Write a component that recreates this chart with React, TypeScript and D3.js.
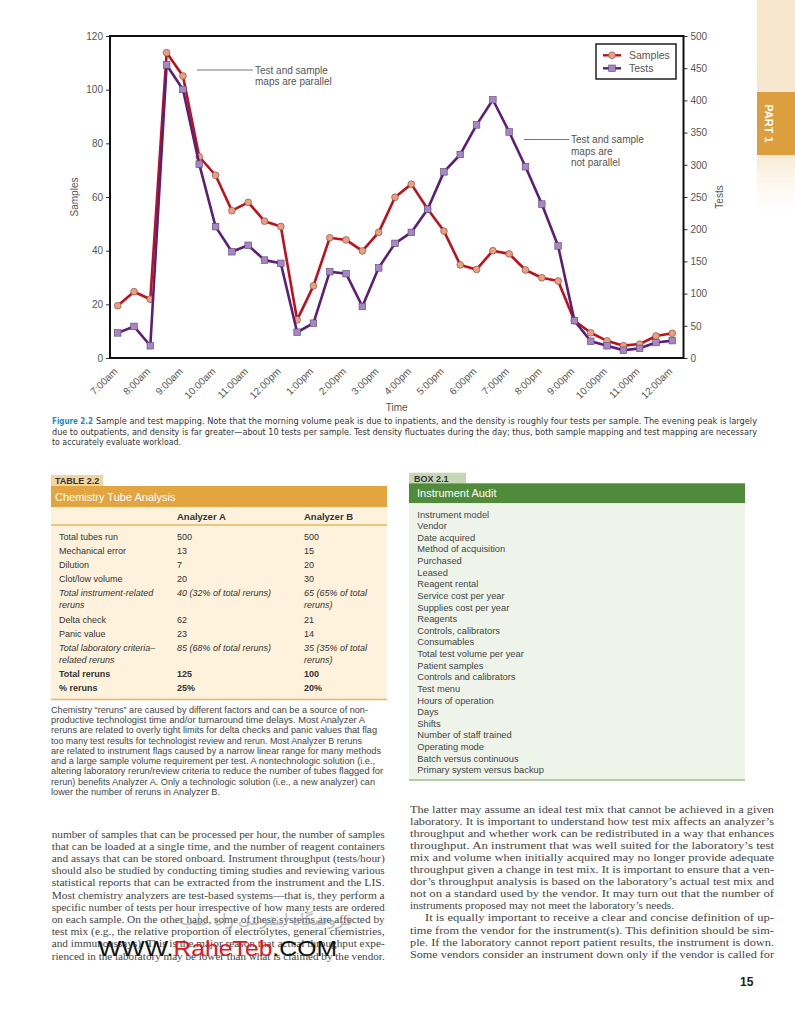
import * as d3 from "d3";
import React, { useEffect, useRef } from "react";

// time of day, every half hour
const times = [
  "7:00am", "7:30am", "8:00am", "8:30am", "9:00am", "9:30am", "10:00am", "10:30am",
  "11:00am", "11:30am", "12:00pm", "12:30pm", "1:00pm", "1:30pm", "2:00pm", "2:30pm",
  "3:00pm", "3:30pm", "4:00pm", "4:30pm", "5:00pm", "5:30pm", "6:00pm", "6:30pm",
  "7:00pm", "7:30pm", "8:00pm", "8:30pm", "9:00pm", "9:30pm", "10:00pm", "10:30pm",
  "11:00pm", "11:30pm", "12:00am",
];
const hourLabels = [
  "7:00am", "8:00am", "9:00am", "10:00am", "11:00am", "12:00pm", "1:00pm", "2:00pm", "3:00pm",
  "4:00pm", "5:00pm", "6:00pm", "7:00pm", "8:00pm", "9:00pm", "10:00pm", "11:00pm", "12:00am",
];
const samples = [
  19.5, 24.7, 21.9, 113.8, 105.1, 75, 68.1, 54.9, 58, 51, 49, 14.2, 26.9, 44.8, 44, 39.9, 46.8,
  59.9, 64.8, 55.5, 47.3, 34.7, 33, 40, 38.8, 32.8, 29.9, 28.7, 13.9, 9.4, 6.4, 4.6, 5.2, 8.2, 9.2,
];
const tests = [
  39, 49, 19, 455, 417, 301, 204, 165, 175, 152, 147, 40, 54, 134, 131, 80, 140, 178, 195, 231,
  289, 316, 362, 401, 351, 297, 239, 174, 58, 26, 19, 12, 15, 24, 27,
];
const sampleTicks = [0, 20, 40, 60, 80, 100, 120];
const testTicks = [0, 50, 100, 150, 200, 250, 300, 350, 400, 450, 500];

const captionLines = [
  "Sample and test mapping. Note that the morning volume peak is due to inpatients, and the density is roughly four tests per sample. The evening peak is largely",
  "due to outpatients, and density is far greater\u2014about 10 tests per sample. Test density fluctuates during the day; thus, both sample mapping and test mapping are necessary",
  "to accurately evaluate workload.",
];

const tableLabels = [
  ["Total tubes run"], ["Mechanical error"], ["Dilution"], ["Clot/low volume"],
  ["Total instrument-related", "reruns"], ["Delta check"], ["Panic value"],
  ["Total laboratory criteria\u2013", "related reruns"], ["Total reruns"], ["% reruns"],
];
const analyzerA = [
  ["500"], ["13"], ["7"], ["20"], ["40 (32% of total reruns)"], ["62"], ["23"],
  ["85 (68% of total reruns)"], ["125"], ["25%"],
];
const analyzerB = [
  ["500"], ["15"], ["20"], ["30"], ["65 (65% of total", "reruns)"], ["21"], ["14"],
  ["35 (35% of total", "reruns)"], ["100"], ["20%"],
];
const rowStyle = ["n", "n", "n", "n", "i", "n", "n", "i", "b", "b"];

const tableNote = [
  "Chemistry \u201creruns\u201d are caused by different factors and can be a source of non-",
  "productive technologist time and/or turnaround time delays. Most Analyzer A",
  "reruns are related to overly tight limits for delta checks and panic values that flag",
  "too many test results for technologist review and rerun. Most Analyzer B reruns",
  "are related to instrument flags caused by a narrow linear range for many methods",
  "and a large sample volume requirement per test. A nontechnologic solution (i.e.,",
  "altering laboratory rerun/review criteria to reduce the number of tubes flagged for",
  "rerun) benefits Analyzer A. Only a technologic solution (i.e., a new analyzer) can",
  "lower the number of reruns in Analyzer B.",
];
const tableNoteEnds = [368, 365, 377, 362, 381, 375, 383, 375, 220];

const auditItems = [
  "Instrument model", "Vendor", "Date acquired", "Method of acquisition", "Purchased", "Leased",
  "Reagent rental", "Service cost per year", "Supplies cost per year", "Reagents",
  "Controls, calibrators", "Consumables", "Total test volume per year", "Patient samples",
  "Controls and calibrators", "Test menu", "Hours of operation", "Days", "Shifts",
  "Number of staff trained", "Operating mode", "Batch versus continuous",
  "Primary system versus backup",
];

const leftColumn = [
  "number of samples that can be processed per hour, the number of samples",
  "that can be loaded at a single time, and the number of reagent containers",
  "and assays that can be stored onboard. Instrument throughput (tests/hour)",
  "should also be studied by conducting timing studies and reviewing various",
  "statistical reports that can be extracted from the instrument and the LIS.",
  "Most chemistry analyzers are test-based systems\u2014that is, they perform a",
  "specific number of tests per hour irrespective of how many tests are ordered",
  "on each sample. On the other hand, some of these systems are affected by",
  "test mix (e.g., the relative proportion of electrolytes, general chemistries,",
  "and immunoassays). This is the major reason that actual throughput expe-",
  "rienced in the laboratory may be lower than what is claimed by the vendor.",
];
const rightColumn = [
  "The latter may assume an ideal test mix that cannot be achieved in a given",
  "laboratory. It is important to understand how test mix affects an analyzer\u2019s",
  "throughput and whether work can be redistributed in a way that enhances",
  "throughput. An instrument that was well suited for the laboratory\u2019s test",
  "mix and volume when initially acquired may no longer provide adequate",
  "throughput given a change in test mix. It is important to ensure that a ven-",
  "dor\u2019s throughput analysis is based on the laboratory\u2019s actual test mix and",
  "not on a standard used by the vendor. It may turn out that the number of",
  "instruments proposed may not meet the laboratory\u2019s needs.",
  "It is equally important to receive a clear and concise definition of up-",
  "time from the vendor for the instrument(s). This definition should be sim-",
  "ple. If the laboratory cannot report patient results, the instrument is down.",
  "Some vendors consider an instrument down only if the vendor is called for",
];

const SANS = "'Liberation Sans', Arial, sans-serif";
const SERIF = "'Liberation Serif', 'Times New Roman', serif";
const NARROW = "'Liberation Sans Narrow', 'DejaVu Sans Condensed', 'Liberation Sans', sans-serif";

const RED = "#c0101c";
const PURPLE = "#5c1e78";

function drawChart(el: SVGGElement) {
  const g = d3.select(el);
  g.selectAll("*").remove();

  const left = 110, right = 683.5, top = 36, bottom = 358;
  const x = d3.scalePoint<string>().domain(times).range([117.7, 672.3]);
  const yS = d3.scaleLinear().domain([0, 120]).range([bottom, top]);
  const yT = d3.scaleLinear().domain([0, 500]).range([bottom, top]);

  // left axis
  const ax1 = g.append("g").attr("transform", `translate(${left},0)`)
    .call(d3.axisLeft(yS).tickValues(sampleTicks).tickSize(4).tickPadding(3));
  // right axis
  const ax2 = g.append("g").attr("transform", `translate(${right},0)`)
    .call(d3.axisRight(yT).tickValues(testTicks).tickSize(4).tickPadding(3));
  // bottom axis
  const ax3 = g.append("g").attr("transform", `translate(0,${bottom})`)
    .call(d3.axisBottom(x).tickValues(hourLabels).tickSize(0));

  [ax1, ax2, ax3].forEach(a => {
    a.select(".domain").remove();
    a.selectAll("line").attr("stroke", "#333");
    a.selectAll("text").attr("fill", "#555").style("font-family", SANS).style("font-size", "10px");
  });
  ax3.selectAll("text")
    .attr("text-anchor", "end")
    .attr("dy", null)
    .attr("y", null)
    .attr("transform", "translate(0,14) rotate(-45)");

  // frame
  g.append("rect")
    .attr("x", left).attr("y", top)
    .attr("width", right - left).attr("height", bottom - top)
    .attr("fill", "none").attr("stroke", "#111").attr("stroke-width", 2);

  const lineS = d3.line<number>().x((_, i) => x(times[i])!).y(d => yS(d));
  const lineT = d3.line<number>().x((_, i) => x(times[i])!).y(d => yT(d));

  g.append("path").attr("d", lineS(samples)!).attr("fill", "none")
    .attr("stroke", RED).attr("stroke-width", 2.6).attr("stroke-linejoin", "round");
  g.append("g").selectAll("circle").data(samples).join("circle")
    .attr("cx", (_, i) => x(times[i])!).attr("cy", d => yS(d)).attr("r", 3.4)
    .attr("fill", "#e8a080").attr("stroke", "#7a4a3a").attr("stroke-width", 0.6);

  g.append("path").attr("d", lineT(tests)!).attr("fill", "none")
    .attr("stroke", PURPLE).attr("stroke-width", 2.6).attr("stroke-linejoin", "round");
  g.append("g").selectAll("rect").data(tests).join("rect")
    .attr("x", (_, i) => x(times[i])! - 3.3).attr("y", d => yT(d) - 3.3)
    .attr("width", 6.6).attr("height", 6.6)
    .attr("fill", "#a786c4").attr("stroke", "#5a4670").attr("stroke-width", 0.6);

  const txt = (s: string, tx: number, ty: number, anchor = "start", rot = 0, size = 10) =>
    g.append("text").text(s)
      .attr("transform", `translate(${tx},${ty}) rotate(${rot})`)
      .attr("text-anchor", anchor).attr("fill", "#555")
      .style("font-family", SANS).style("font-size", `${size}px`);

  txt("Samples", 77.5, 197, "middle", -90);
  txt("Tests", 723, 197, "middle", -90);
  txt("Time", (left + right) / 2, 411, "middle");

  // annotations
  g.append("line").attr("x1", 197).attr("x2", 253).attr("y1", 70).attr("y2", 70)
    .attr("stroke", "#777").attr("stroke-width", 1);
  txt("Test and sample", 255, 73.5);
  txt("maps are parallel", 255, 84.5);
  g.append("line").attr("x1", 524).attr("x2", 569).attr("y1", 139.5).attr("y2", 139.5)
    .attr("stroke", "#777").attr("stroke-width", 1);
  txt("Test and sample", 571, 143);
  txt("maps are", 571, 154.5);
  txt("not parallel", 571, 166);

  // legend
  g.append("rect").attr("x", 596).attr("y", 44).attr("width", 80).attr("height", 35)
    .attr("fill", "white").attr("stroke", "#111").attr("stroke-width", 1.4);
  const leg = [
    { name: "Samples", color: RED, y: 55.3, shape: "c" },
    { name: "Tests", color: PURPLE, y: 68.3, shape: "s" },
  ];
  leg.forEach(l => {
    g.append("line").attr("x1", 603).attr("x2", 621).attr("y1", l.y).attr("y2", l.y)
      .attr("stroke", l.color).attr("stroke-width", 2.4);
    if (l.shape === "c") {
      g.append("circle").attr("cx", 612).attr("cy", l.y).attr("r", 3.4)
        .attr("fill", "#e8a080").attr("stroke", "#7a4a3a").attr("stroke-width", 0.6);
    } else {
      g.append("rect").attr("x", 612 - 3.3).attr("y", l.y - 3.3).attr("width", 6.6).attr("height", 6.6)
        .attr("fill", "#a786c4").attr("stroke", "#5a4670").attr("stroke-width", 0.6);
    }
    txt(l.name, 629, l.y + 3.6, "start", 0, 10.5);
  });
}

function Chart() {
  const ref = useRef<SVGGElement>(null);
  useEffect(() => {
    if (ref.current) drawChart(ref.current);
  }, []);
  return <g ref={ref} />;
}

const bodyText = { fontFamily: SERIF, fontSize: 10.6, fill: "#444" };
const tableText = { fontFamily: SANS, fontSize: 9, fill: "#333" };

export default function App() {
  const rowY = [536.7, 550.7, 565, 579, 593, 619.7, 633.7, 647.7, 674, 688];
  return (
    <svg width={795} height={1010} style={{ position: "absolute", left: 0, top: 0, background: "#fff" }}>
      {/* page edge decoration */}
      <defs>
        <linearGradient id="fade" x1="0" y1="0" x2="0" y2="1">
          <stop offset="0" stopColor="#f9ead4" />
          <stop offset="1" stopColor="#fdf7ee" stopOpacity="0" />
        </linearGradient>
      </defs>
      <rect x={757} y={0} width={38} height={92} fill="#f8e7cf" />
      <rect x={757} y={155} width={38} height={60} fill="url(#fade)" />
      <rect x={757} y={92} width={38} height={63} fill="#dc9e3f" />
      <text transform="translate(765,123.5) rotate(90)" textAnchor="middle"
        style={{ fontFamily: SANS, fontSize: 11, fontWeight: 700, fill: "#fff" }}>PART 1</text>

      <Chart />

      {/* caption */}
      <text x={52} y={424} style={{ fontFamily: NARROW, fontSize: 9, fontWeight: 700, fill: "#1b8dbb" }}
        textLength={41} lengthAdjust="spacingAndGlyphs">Figure 2.2</text>
      <text x={96} y={424} style={{ fontFamily: NARROW, fontSize: 9, fill: "#333" }}
        textLength={661} lengthAdjust="spacingAndGlyphs">{captionLines[0]}</text>
      <text x={52} y={434.5} style={{ fontFamily: NARROW, fontSize: 9, fill: "#333" }}
        textLength={705} lengthAdjust="spacingAndGlyphs">{captionLines[1]}</text>
      <text x={52} y={445} style={{ fontFamily: NARROW, fontSize: 9, fill: "#333" }}
        textLength={129} lengthAdjust="spacingAndGlyphs">{captionLines[2]}</text>

      {/* Table 2.2 */}
      <rect x={51} y={475} width={52} height={11} fill="#f3d49b" />
      <text x={55} y={484} style={{ fontFamily: SANS, fontSize: 9, fontWeight: 700, fill: "#333" }}>TABLE 2.2</text>
      <rect x={51} y={486} width={336} height={21} fill="#e2a540" />
      <text x={55} y={500.5} style={{ fontFamily: SANS, fontSize: 11, fill: "#fff" }}>Chemistry Tube Analysis</text>
      <rect x={51} y={507} width={336} height={192} fill="#fef2dc" />
      <text x={177} y={520} style={{ ...tableText, fontWeight: 700, fontSize: 9.5 }}>Analyzer A</text>
      <text x={304} y={520} style={{ ...tableText, fontWeight: 700, fontSize: 9.5 }}>Analyzer B</text>
      <line x1={51} x2={387} y1={525} y2={525} stroke="#e8b560" strokeWidth={1.6} />
      {tableLabels.map((lab, i) => {
        const st = {
          ...tableText,
          fontStyle: rowStyle[i] === "i" ? "italic" : "normal",
          fontWeight: rowStyle[i] === "b" ? 700 : 400,
        };
        const cells: [string[], number][] = [[lab, 59], [analyzerA[i], 177], [analyzerB[i], 304]];
        return (
          <g key={i}>
            {cells.map(([lines, cx], j) =>
              lines.map((s, k) => (
                <text key={`${j}-${k}`} x={cx} y={rowY[i] + 3.3 + k * 12} style={st}>{s}</text>
              ))
            )}
          </g>
        );
      })}
      <line x1={51} x2={387} y1={699.5} y2={699.5} stroke="#e8b560" strokeWidth={1.6} />
      {tableNote.map((s, i) => (
        <text key={i} x={51} y={712.6 + i * 10.3} style={{ ...tableText, fontSize: 9, fill: "#444" }}
          textLength={tableNoteEnds[i] - 51} lengthAdjust="spacingAndGlyphs">{s}</text>
      ))}

      {/* Box 2.1 */}
      <rect x={409} y={472.7} width={57} height={10.6} fill="#c6d7b7" />
      <text x={414} y={481.5} style={{ fontFamily: SANS, fontSize: 9, fontWeight: 700, fill: "#333" }}>BOX 2.1</text>
      <rect x={409} y={483.3} width={336} height={20} fill="#4f8b3b" />
      <text x={417} y={497.3} style={{ fontFamily: SANS, fontSize: 11, fill: "#fff" }}>Instrument Audit</text>
      <rect x={409} y={503.3} width={336} height={276.7} fill="#eef4e9" />
      <line x1={409} x2={745} y1={780} y2={780} stroke="#9dbf8a" strokeWidth={1.5} />
      {auditItems.map((s, i) => (
        <text key={i} x={417.3} y={517.6 + i * 11.62} style={{ ...tableText, fontSize: 9.3, fill: "#444" }}>{s}</text>
      ))}

      {/* body columns */}
      {leftColumn.map((s, i) => (
        <text key={i} x={51.7} y={837.5 + i * 12.2} style={bodyText}
          textLength={333} lengthAdjust="spacingAndGlyphs">{s}</text>
      ))}
      {rightColumn.map((s, i) => {
        const x0 = i === 9 ? 425 : 410;
        const w = i === 8 ? 264 : 774 - x0;
        return (
          <text key={i} x={x0} y={812.5 + i * 12.1} style={bodyText}
            textLength={w} lengthAdjust="spacingAndGlyphs">{s}</text>
        );
      })}

      {/* watermark */}
      <text x={353} y={925} textAnchor="end" direction="ltr" textLength={173} lengthAdjust="spacingAndGlyphs"
        style={{ fontFamily: "'Noto Sans', sans-serif", fontSize: 16, fill: "#9a9a9a", opacity: 0.7 }}>
        {"\u0641\u0631\u0648\u0634\u06af\u0627\u0647 \u0627\u06cc\u0646\u062a\u0631\u0646\u062a\u06cc \u0631\u0627\u0647 \u0637\u0628"}
      </text>
      <text x={98} y={956} textLength={239} lengthAdjust="spacingAndGlyphs"
        style={{ fontFamily: SANS, fontSize: 22, fill: "#111" }}>
        WWW.<tspan fill="#e8141c">RaheTeb</tspan>.COM
      </text>

      <text x={740} y={986} style={{ fontFamily: SANS, fontSize: 12, fontWeight: 700, fill: "#222" }}>15</text>
    </svg>
  );
}
